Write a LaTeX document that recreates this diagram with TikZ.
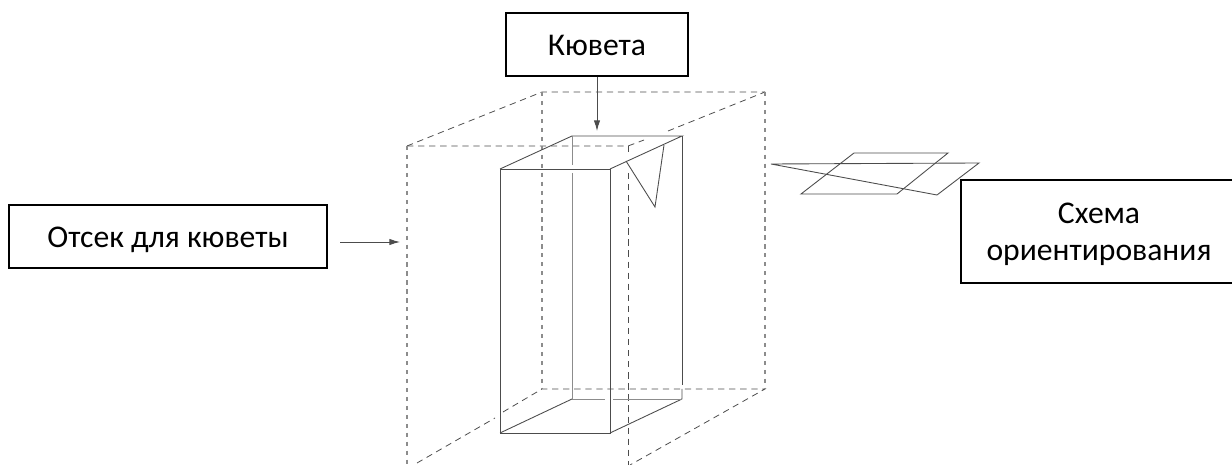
\documentclass[tikz,border=0pt]{standalone}
\usepackage{fontspec}
\setmainfont{Carlito}
\usetikzlibrary{arrows.meta}
\definecolor{boxgrey}{gray}{0.3}
\definecolor{hidgrey}{gray}{0.55}
\tikzset{
	label/.style    = {draw, line width = 1pt, rectangle, align = center, inner sep = 0pt,
		font = \fontsize{18pt}{21.5pt}\selectfont, text depth = 3.5pt},
	solid line/.style = {draw = boxgrey, line width = 0.5pt},
	back line/.style = {draw = hidgrey, line width = 0.5pt},
	dash line/.style = {draw = boxgrey, line width = 0.45pt, dash pattern = on 3.6pt off 2.7pt},
	dash upright/.style = {draw = hidgrey, line width = 0.6pt, dash pattern = on 2.4pt off 2.7pt},
	pointer/.style  = {draw = boxgrey, line width = 0.5pt, -{Latex[length = 6pt, width = 3.6pt]}}
}

\begin{document}
\begin{tikzpicture}[x = 0.02cm, y = -0.02cm]
	\useasboundingbox (0,0) rectangle (1232,465);
	% labels
	\node at (597,44.5)[label, text height = 15.5pt, minimum width = 3.64cm, minimum height = 1.25cm] (cuvette) {Кювета};
	\node at (168,236.5)[label, text height = 15.5pt, minimum width = 6.36cm, minimum height = 1.26cm] (holder) {Отсек для кюветы};
	\node at (1099,231.5)[label, text height = 37pt, minimum width = 5.52cm, minimum height = 2.06cm] (scheme) {Схема\\ориентирования};
	
	% cuvette corners
	\coordinate (f1) at (500,169);
	\coordinate (f2) at (610,169);
	\coordinate (f3) at (610,433);
	\coordinate (f4) at (500,433);
	\coordinate (b1) at (572,136);
	\coordinate (b2) at (682,136);
	\coordinate (b3) at (682,399);
	\coordinate (b4) at (572,399);
	
	% compartment
	\draw[dash line] (417,463) -- (495,418);
	\draw[dash line] (503,412) -- (542,389) -- (765,389) -- (630,465);
	\draw[dash line] (407,146) -- (542,92) -- (765,92);
	\draw[dash line] (407,146) -- (628,146) -- (644,140);
	\draw[dash line] (668,131) -- (765,92);
	\draw[dash upright] (407,146) -- (407,465);
	\draw[dash upright] (542,92) -- (542,389);
	\draw[dash upright] (765,92) -- (765,389);
	\draw[dash line] (628,146) -- (628,152);
	\draw[dash line] (628,173) -- (628,465);
	
	% cuvette
	\draw[solid line] (f1) -- (f2) -- (f3) -- (f4) -- cycle;
	\draw[solid line] (f1) -- (b1) -- (b2) -- (f2);
	\draw[solid line] (b2) -- (682,385);
	\draw[solid line] (682,389) -- (b3) -- (f3);
	\draw[solid line] (f4) -- (b4);
	\draw[back line] (b4) -- (605,399);
	\draw[back line] (613,399) -- (b3);
	\draw[back line] (b1) -- (572,165);
	\draw[back line] (572,173) -- (b4);
	\draw[solid line] (626,161) -- (655,207) -- (664,145);
	
	% orientation scheme
	\draw[solid line] (854,153) -- (948,153) -- (897,194) -- (801,194) -- cycle;
	\draw[solid line] (771,164) -- (979,163) -- (937,195) -- cycle;
	
	% arrows
	\coordinate (cuvette tip) at (597,131);
	\coordinate (holder start) at (340,242);
	\coordinate (holder tip) at (400,242);
	\draw[pointer] (cuvette.south -| cuvette tip) -- (cuvette tip);
	\draw[pointer] (holder start) -- (holder tip);
\end{tikzpicture}
\end{document}
